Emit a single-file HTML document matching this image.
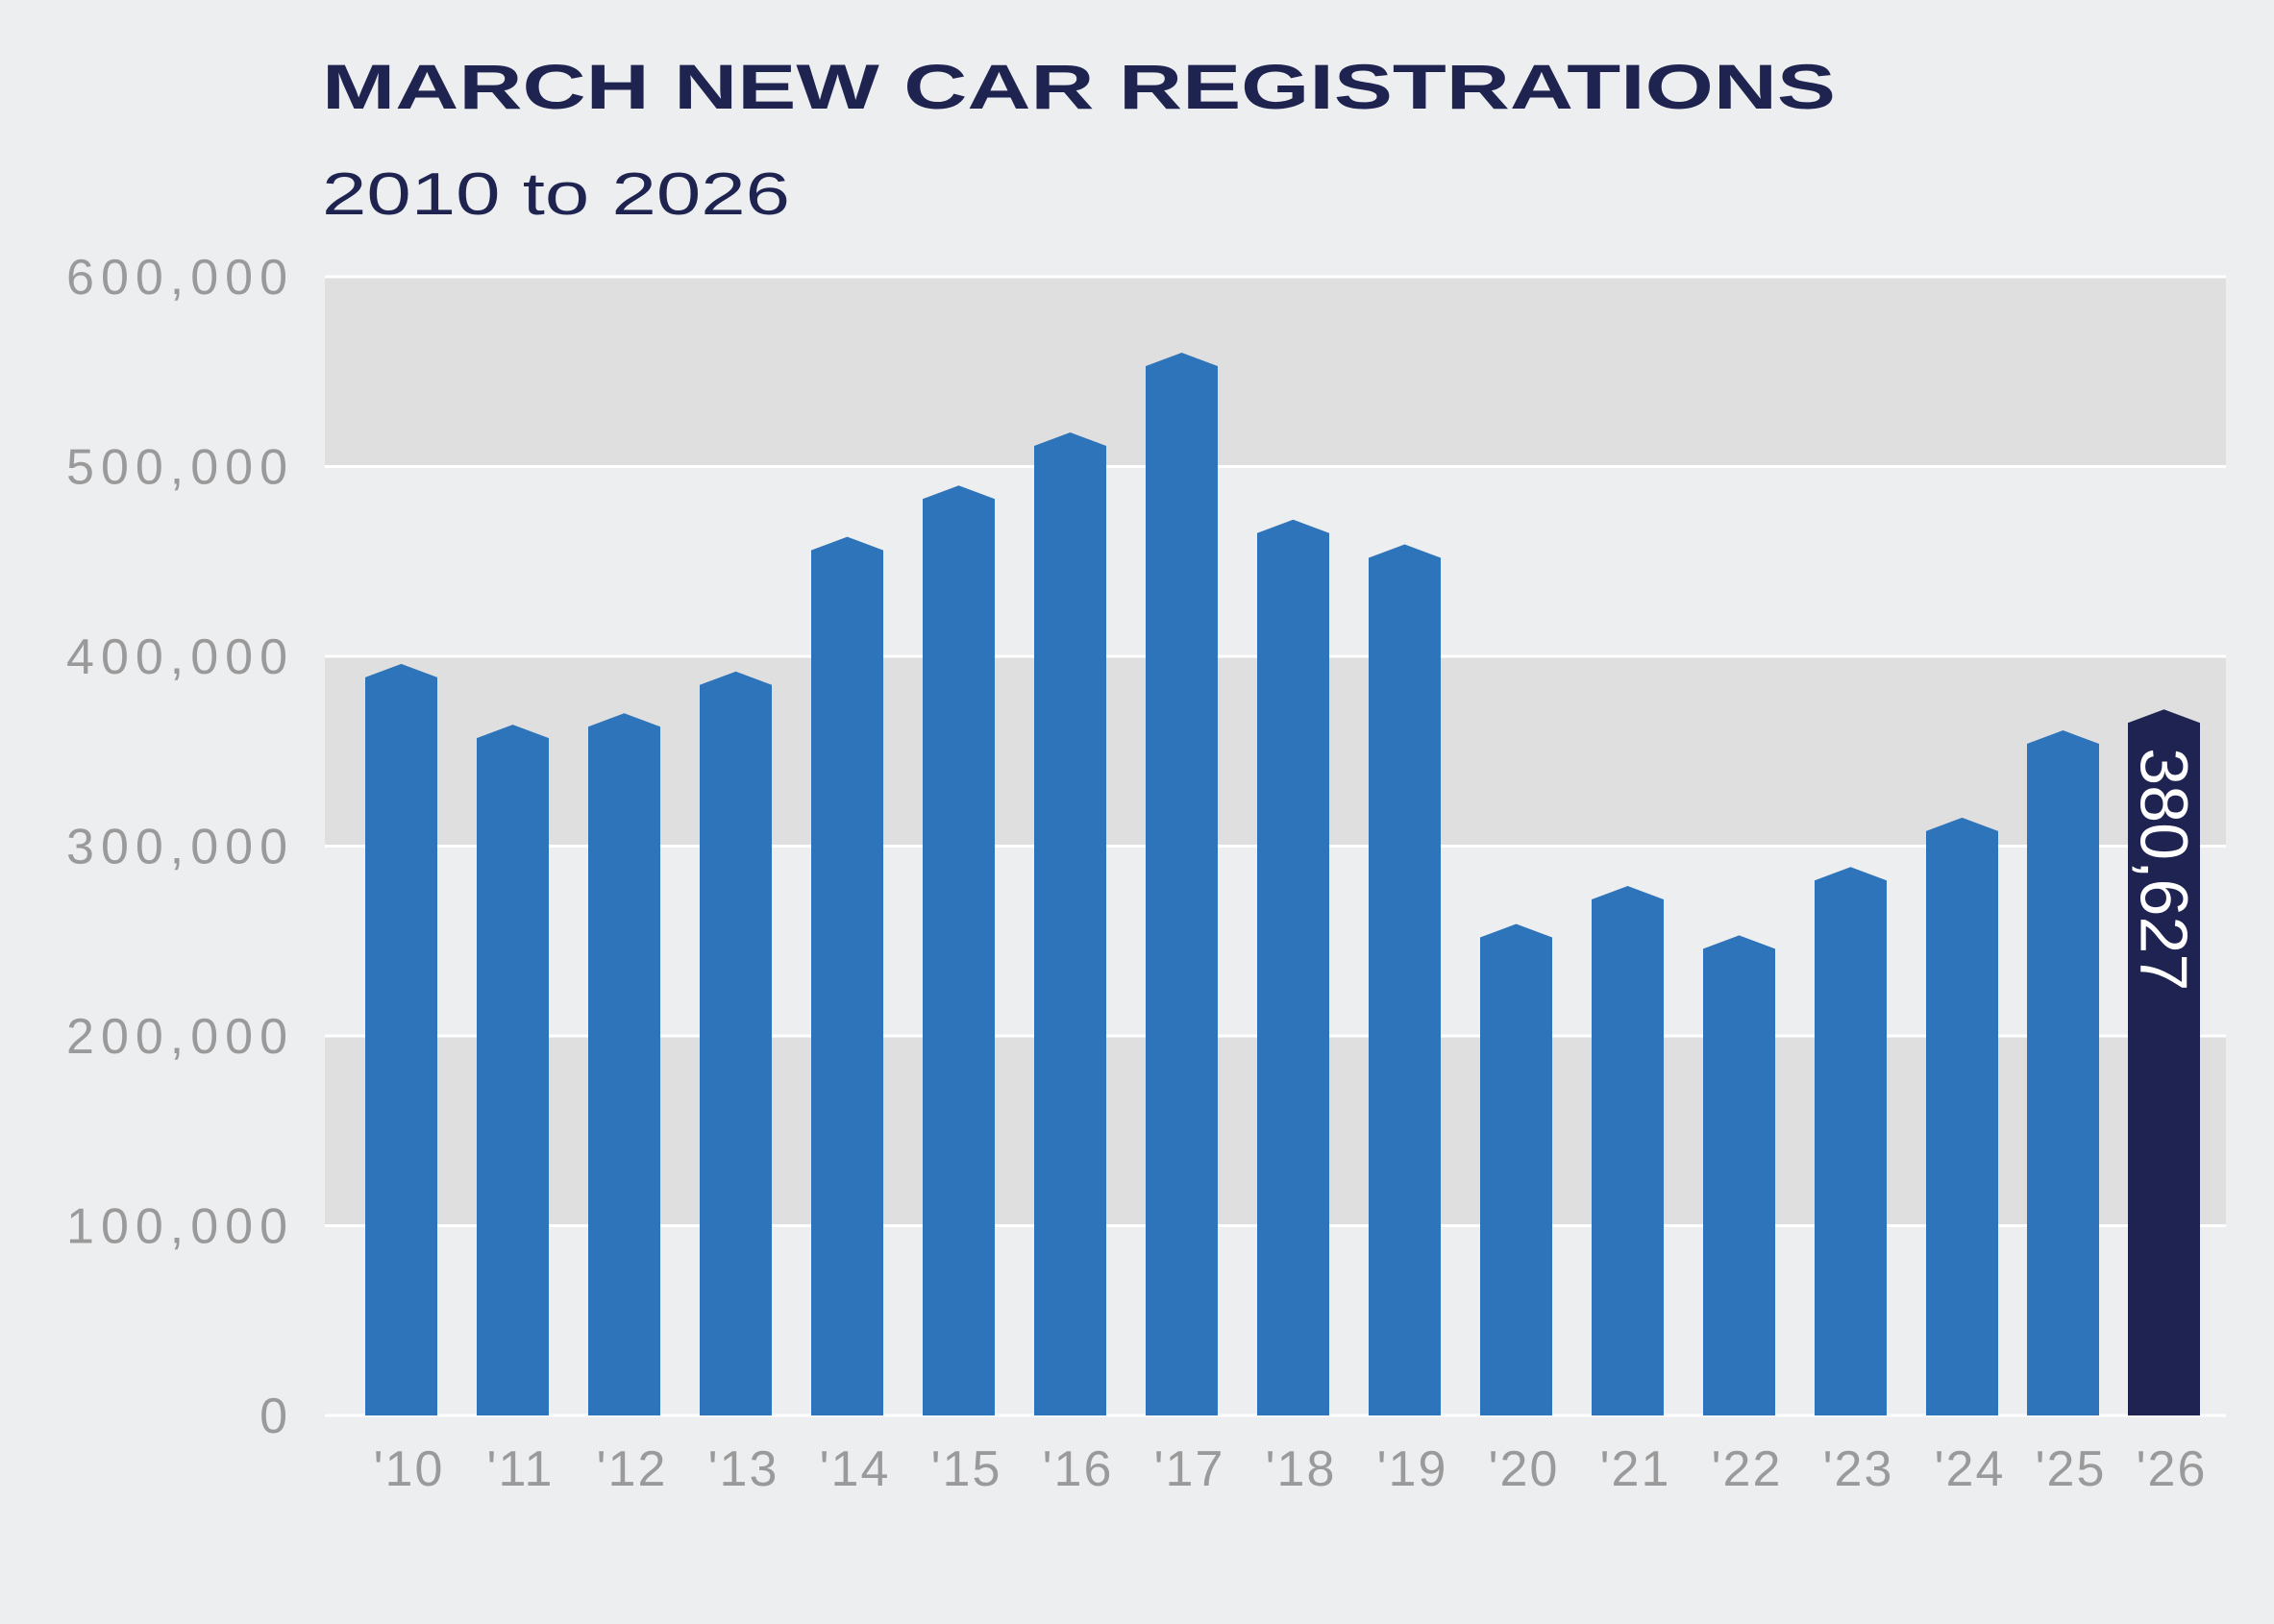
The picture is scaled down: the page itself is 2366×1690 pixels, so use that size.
<!DOCTYPE html>
<html><head><meta charset="utf-8"><style>
html,body{margin:0;padding:0;background:#edeef0;}
svg{display:block;font-family:"Liberation Sans",sans-serif;}
</style></head><body>
<svg id="chart" width="2366" height="1690" viewBox="0 0 2366 1690" xmlns="http://www.w3.org/2000/svg">
<rect width="2366" height="1690" fill="#edeef0"/>
<text x="335" y="113" font-size="66" font-weight="900" fill="#1e2350" textLength="1575" lengthAdjust="spacingAndGlyphs">MARCH NEW CAR REGISTRATIONS</text>
<text x="335" y="223" font-size="62" fill="#1e2350" textLength="487" lengthAdjust="spacingAndGlyphs">2010 to 2026</text>
<g id="bands"></g><g id="grid"></g><g id="bars"></g><g id="ylabels"></g><g id="xlabels"></g>
</svg>
<script>
const categories = ["'10","'11","'12","'13","'14","'15","'16","'17","'18","'19","'20","'21","'22","'23","'24","'25","'26"];
const values = [396000,364000,370000,392000,463000,490000,518000,560000,472000,459000,259000,279000,253000,289000,315000,361000,372000];
const yTicks = [0,100000,200000,300000,400000,500000,600000];
const yTickLabels = ["0","100,000","200,000","300,000","400,000","500,000","600,000"];
const highlightLabel = "380,627";

const NS="http://www.w3.org/2000/svg";
const plotL=338, plotR=2316, y0=1473, yTop=288, yMax=600000;
function y(v){return y0-(v/yMax)*(y0-yTop);}
const firstLeft=380, step=116, tailStep=105, tailStart=14, barW=75;
function xLeft(i){return i<=tailStart ? firstLeft+i*step : firstLeft+tailStart*step+(i-tailStart)*tailStep;}
function mk(tag,attrs,parent){const e=document.createElementNS(NS,tag);for(const k in attrs)e.setAttribute(k,attrs[k]);parent.appendChild(e);return e;}
const bands=document.getElementById('bands'),grid=document.getElementById('grid'),bars=document.getElementById('bars'),yl=document.getElementById('ylabels'),xl=document.getElementById('xlabels');
for(let i=0;i<yTicks.length-1;i++){
  if(i%2===1){
    const r=mk('rect',{x:plotL,y:y(yTicks[i+1]),width:plotR-plotL,height:y(yTicks[i])-y(yTicks[i+1]),fill:'#e0dfe0'},bands);
    
    
  }
}
yTicks.forEach((t,i)=>{
  const l=mk('line',{x1:plotL,x2:plotR,y1:y(t),y2:y(t),stroke:'#ffffff','stroke-width':3},grid);
  
  
  const tx=mk('text',{x:306,y:y(t)+18,'text-anchor':'end','font-size':52,fill:'#9b9a9a','letter-spacing':7},yl);
  tx.textContent=yTickLabels[i];
  
  
});
values.forEach((v,i)=>{
  const L=xLeft(i),R=L+barW,top=y(v),sh=top+14,c=L+barW/2,last=i===values.length-1;
  const p=mk('path',{d:`M${L},${y0} L${L},${sh} L${c},${top} L${R},${sh} L${R},${y0} Z`,fill:last?'#1e2352':'#2e74ba'},bars);
  
  
  const t=mk('text',{x:c+8,y:1546,'text-anchor':'middle','font-size':52,fill:'#9b9a9a','letter-spacing':2},xl);
  t.textContent=categories[i];
  
  
  if(last){
    const lb=mk('text',{x:0,y:0,'font-size':70,fill:'#ffffff',transform:`translate(${c-24},${sh+26}) rotate(90)`},bars);
    lb.textContent=highlightLabel;
    
    
  }
});
</script>
</body></html>
